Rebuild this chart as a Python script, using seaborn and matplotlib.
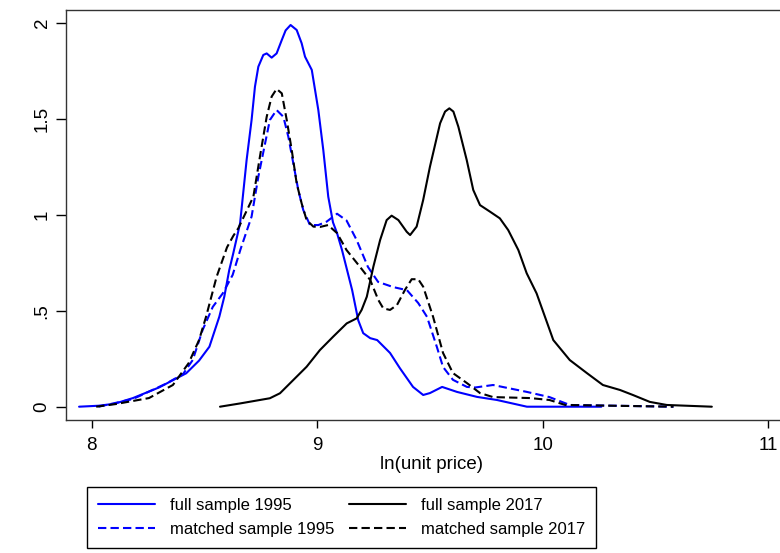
import numpy as np
import pandas as pd
import matplotlib
matplotlib.use("Agg")
import matplotlib.pyplot as plt
import seaborn as sns

# ---- data ----
full95_x = [7.944, 8.03, 8.10, 8.183, 8.298, 8.419, 8.476, 8.522, 8.566, 8.588, 8.61, 8.628,
            8.658, 8.687, 8.709, 8.724, 8.739, 8.761, 8.776, 8.798, 8.82, 8.843, 8.86, 8.882,
            8.909, 8.931, 8.946, 8.976, 9.005, 9.027, 9.049, 9.07, 9.088, 9.11, 9.155, 9.182,
            9.204, 9.235, 9.266, 9.323, 9.367, 9.425, 9.47, 9.50, 9.554, 9.62, 9.709, 9.797,
            9.93, 10.26]
full95_y = [0.0, 0.005, 0.015, 0.045, 0.10, 0.174, 0.24, 0.3125, 0.469, 0.573, 0.712, 0.80,
            0.955, 1.285, 1.493, 1.667, 1.771, 1.832, 1.84, 1.818, 1.84, 1.91, 1.96, 1.988,
            1.962, 1.893, 1.823, 1.754, 1.545, 1.337, 1.094, 0.96, 0.904, 0.816, 0.607, 0.45,
            0.383, 0.357, 0.347, 0.28, 0.20, 0.103, 0.061, 0.071, 0.103, 0.077, 0.051, 0.035,
            0.0, 0.0]

match95_x = [8.03, 8.183, 8.33, 8.405, 8.448, 8.492, 8.537, 8.581, 8.625, 8.66, 8.709, 8.739,
             8.769, 8.79, 8.82, 8.85, 8.872, 8.894, 8.916, 8.938, 8.968, 9.005, 9.042, 9.088,
             9.13, 9.175, 9.225, 9.27, 9.337, 9.398, 9.448, 9.487, 9.531, 9.558, 9.602, 9.664,
             9.70, 9.78, 9.93, 10.03, 10.12, 10.58]
match95_y = [0.0, 0.04, 0.12, 0.17, 0.243, 0.40, 0.52, 0.59, 0.686, 0.82, 0.99, 1.198,
             1.372, 1.493, 1.545, 1.51, 1.406, 1.268, 1.129, 1.025, 0.946, 0.946, 0.964, 1.005,
             0.97, 0.868, 0.728, 0.65, 0.623, 0.607, 0.54, 0.468, 0.31, 0.207, 0.14, 0.103,
             0.10, 0.113, 0.077, 0.05, 0.009, 0.0]

full17_x = [8.569, 8.658, 8.746, 8.79, 8.835, 8.894, 8.953, 9.012, 9.071, 9.131, 9.175, 9.197,
            9.22, 9.249, 9.279, 9.308, 9.33, 9.36, 9.397, 9.412, 9.441, 9.47, 9.5, 9.545,
            9.567, 9.586, 9.604, 9.626, 9.663, 9.692, 9.722, 9.766, 9.81, 9.847, 9.892, 9.929,
            9.973, 10.047, 10.12, 10.196, 10.267, 10.343, 10.40, 10.475, 10.55, 10.75]
full17_y = [0.0, 0.017, 0.035, 0.044, 0.07, 0.139, 0.208, 0.295, 0.365, 0.434, 0.46, 0.504,
            0.573, 0.729, 0.868, 0.972, 0.995, 0.972, 0.911, 0.894, 0.938, 1.077, 1.25, 1.476,
            1.537, 1.554, 1.537, 1.458, 1.285, 1.129, 1.05, 1.016, 0.981, 0.92, 0.816, 0.695,
            0.59, 0.347, 0.243, 0.175, 0.113, 0.087, 0.061, 0.025, 0.009, 0.0]

match17_x = [8.02, 8.108, 8.254, 8.36, 8.43, 8.476, 8.507, 8.554, 8.60, 8.628, 8.65, 8.717,
             8.746, 8.776, 8.798, 8.82, 8.843, 8.865, 8.887, 8.909, 8.931, 8.953, 8.983, 9.012,
             9.048, 9.088, 9.13, 9.19, 9.235, 9.271, 9.293, 9.323, 9.354, 9.389, 9.419, 9.448,
             9.47, 9.514, 9.558, 9.602, 9.664, 9.722, 9.78, 9.944, 10.03, 10.10, 10.58]
match17_y = [0.0, 0.014, 0.045, 0.113, 0.227, 0.347, 0.468, 0.677, 0.83, 0.89, 0.929, 1.094,
             1.302, 1.51, 1.615, 1.655, 1.632, 1.493, 1.337, 1.163, 1.059, 0.972, 0.938, 0.936,
             0.946, 0.904, 0.816, 0.728, 0.66, 0.556, 0.512, 0.504, 0.53, 0.608, 0.664, 0.664,
             0.625, 0.468, 0.28, 0.175, 0.123, 0.071, 0.05, 0.045, 0.035, 0.009, 0.0]

labels = ["full sample 1995", "matched sample 1995", "full sample 2017", "matched sample 2017"]
x_ticks = [8, 9, 10, 11]
y_ticks = [0, 0.5, 1, 1.5, 2]
y_tick_labels = ["0", ".5", "1", "1.5", "2"]
x_label = "ln(unit price)"

# ---- style ----
sns.set_theme(style="ticks")
plt.rcParams["font.family"] = ["Liberation Sans", "DejaVu Sans"]
plt.rcParams["text.color"] = "black"
plt.rcParams["xtick.color"] = "black"
plt.rcParams["ytick.color"] = "black"
FS = 13.5
LFS = 12

fig = plt.figure(figsize=(7.8, 5.53), dpi=100)
ax = fig.add_axes([66 / 780, 1 - 420 / 553, 730 / 780, (420 - 10) / 553])

series = [
    (full95_x, full95_y, "#0000FF", "-"),
    (match95_x, match95_y, "#0000FF", (0, (4, 2))),
    (full17_x, full17_y, "black", "-"),
    (match17_x, match17_y, "black", (0, (4, 2))),
]
handles = []
for (xs, ys, c, ls), lab in zip(series, labels):
    df = pd.DataFrame({"x": xs, "y": ys})
    sns.lineplot(data=df, x="x", y="y", sort=False, color=c, linewidth=1.5,
                 ax=ax, label=lab, legend=False)
    ln = ax.lines[-1]
    ln.set_linestyle(ls)
    ln.set_solid_joinstyle("round")
    ln.set_dash_joinstyle("round")
    handles.append(ln)

ax.set_xlim(8 - (91.7 - 66) / 225.5, 8 + (796 - 91.7) / 225.5)
ax.set_ylim(-(420 - 406.7) / 192, (406.7 - 10) / 192)

ax.set_xticks(x_ticks)
ax.set_xticklabels([str(t) for t in x_ticks], fontsize=FS, color="black")
ax.set_yticks(y_ticks)
ax.set_yticklabels(y_tick_labels, fontsize=FS, rotation=90, va="center", color="black")
ax.tick_params(axis="x", direction="out", length=6, width=1, pad=6, color="black")
ax.tick_params(axis="y", direction="out", length=7, width=1, pad=4, color="black")
ax.set_xlabel(x_label, fontsize=FS, labelpad=2, color="black")
ax.set_ylabel("")
for sp in ax.spines.values():
    sp.set_visible(True)
    sp.set_color("#333333")
    sp.set_linewidth(1.0)

leg = fig.legend(handles=handles, labels=labels, ncol=2, loc="upper left",
                 bbox_to_anchor=(87 / 780, 1 - 487 / 553), borderaxespad=0,
                 fontsize=LFS, handlelength=3.4, handletextpad=0.9, columnspacing=0.9,
                 labelspacing=0.55, borderpad=0.65, frameon=True, fancybox=False,
                 framealpha=1)
leg.get_frame().set_edgecolor("black")
leg.get_frame().set_linewidth(1.0)
for t in leg.get_texts():
    t.set_color("black")

fig.savefig("out.png", dpi=100)
